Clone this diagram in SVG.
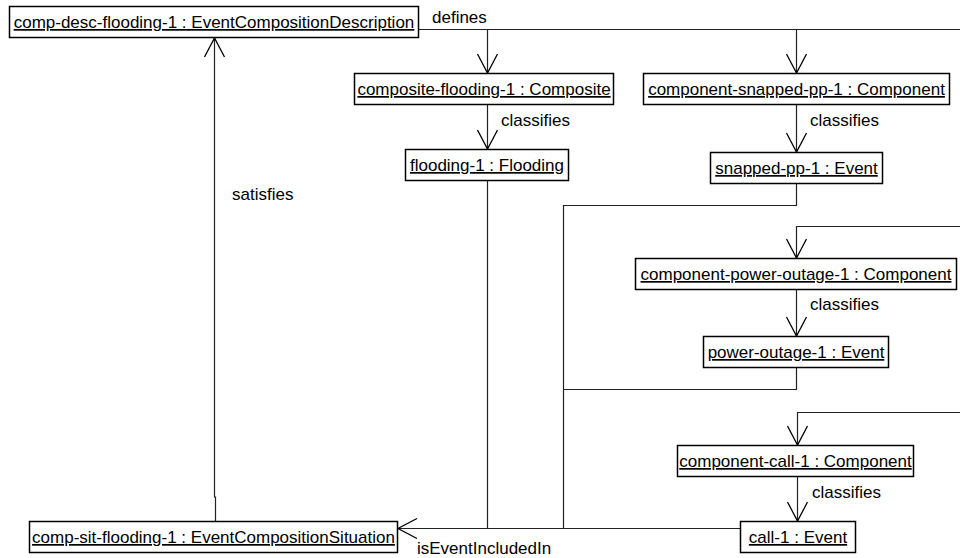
<svg xmlns="http://www.w3.org/2000/svg" width="960" height="558" viewBox="0 0 960 558">
<style>
.box{fill:#fff;stroke:#000;stroke-width:1.5}
.t{font-family:"Liberation Sans",Arial,sans-serif;font-size:17px;fill:#000;text-anchor:middle;text-decoration:underline}
.l{font-family:"Liberation Sans",Arial,sans-serif;font-size:17px;fill:#000}
.c{fill:none;stroke:#222;stroke-width:1.2}
.a{marker-end:url(#arr)}
</style>
<defs>
<marker id="arr" markerUnits="userSpaceOnUse" markerWidth="24" markerHeight="24" viewBox="-21 -12 24 24" refX="0" refY="0" orient="auto">
<path d="M-19,-10 L0,0 L-19,10" fill="none" stroke="#000" stroke-width="1.3"/>
</marker>
</defs>
<rect width="960" height="558" fill="#fff"/>
<g id="connectors">
<path class="c" d="M419,29.5 H960"/>
<path class="c a" d="M487.5,29.5 V73"/>
<path class="c a" d="M796.5,29.5 V73"/>
<path class="c a" d="M487.5,104 V149"/>
<path class="c a" d="M796.5,104 V152"/>
<path class="c a" d="M796.5,289 V336"/>
<path class="c a" d="M797.5,477 V521"/>
<path class="c a" d="M960,226.5 H796.5 V258"/>
<path class="c a" d="M960,412.5 H797.5 V445"/>
<path class="c a" d="M740,528.5 H398"/>
<path class="c" d="M487.5,180 V528.5"/>
<path class="c" d="M796.5,183 V205.5 H563.5 V528.5"/>
<path class="c" d="M796.5,367 V389.5 H563.5"/>
<path class="c a" d="M215.5,521 V497 H214.5 V38"/>
<text class="l" x="432" y="23">defines</text>
<text class="l" x="501" y="126">classifies</text>
<text class="l" x="810" y="126">classifies</text>
<text class="l" x="810" y="310">classifies</text>
<text class="l" x="812" y="498">classifies</text>
<text class="l" x="232" y="200">satisfies</text>
<text class="l" x="417" y="554">isEventIncludedIn</text>
</g>
<g id="comp-desc-flooding-1"><rect class="box" x="9.5" y="6.5" width="409" height="31"/><text class="t" x="214" y="28">comp-desc-flooding-1 : EventCompositionDescription</text></g>
<g id="composite-flooding-1"><rect class="box" x="354.5" y="73.5" width="259" height="31"/><text class="t" x="484" y="95">composite-flooding-1 : Composite</text></g>
<g id="component-snapped-pp-1"><rect class="box" x="643.5" y="73.5" width="306" height="31"/><text class="t" x="796.5" y="95">component-snapped-pp-1 : Component</text></g>
<g id="flooding-1"><rect class="box" x="405.5" y="149.5" width="163" height="31"/><text class="t" x="487" y="171">flooding-1 : Flooding</text></g>
<g id="snapped-pp-1"><rect class="box" x="710.5" y="152.5" width="172" height="31"/><text class="t" x="796.5" y="174">snapped-pp-1 : Event</text></g>
<g id="component-power-outage-1"><rect class="box" x="635.5" y="258.5" width="321" height="31"/><text class="t" x="796" y="280">component-power-outage-1 : Component</text></g>
<g id="power-outage-1"><rect class="box" x="703.5" y="336.5" width="185" height="31"/><text class="t" x="796" y="358">power-outage-1 : Event</text></g>
<g id="component-call-1"><rect class="box" x="677.5" y="445.5" width="236" height="31"/><text class="t" x="795.5" y="467">component-call-1 : Component</text></g>
<g id="call-1"><rect class="box" x="740.5" y="521.5" width="115" height="31"/><text class="t" x="798" y="543">call-1 : Event</text></g>
<g id="comp-sit-flooding-1"><rect class="box" x="29.5" y="521.5" width="368" height="31"/><text class="t" x="213.5" y="543">comp-sit-flooding-1 : EventCompositionSituation</text></g>
</svg>
